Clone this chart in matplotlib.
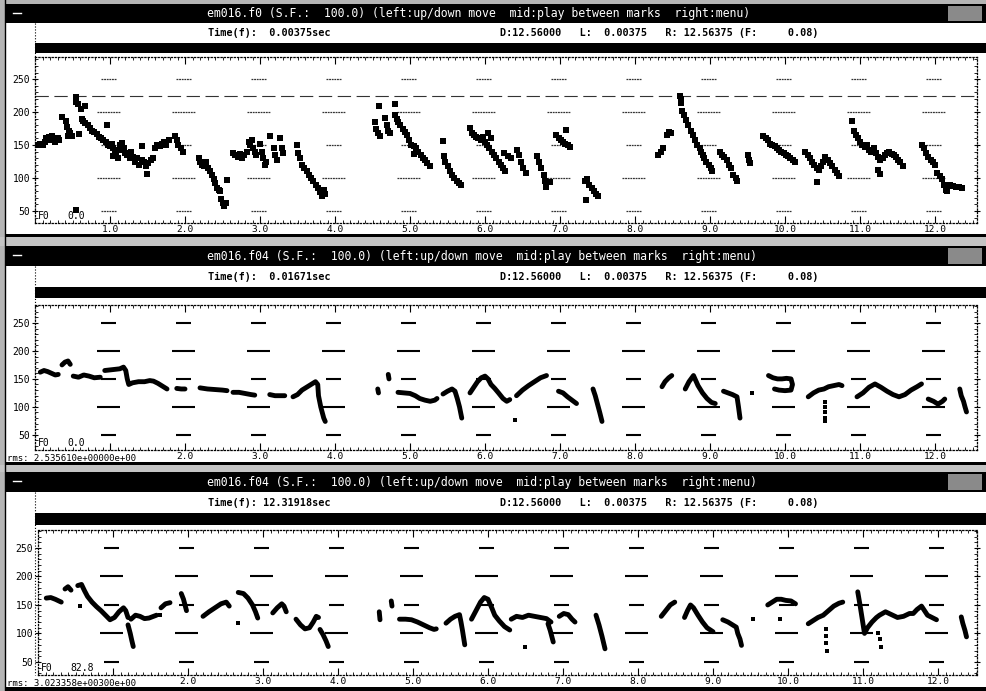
import numpy as np
import matplotlib
matplotlib.use("Agg")
import matplotlib.pyplot as plt
from matplotlib.patches import Rectangle
from matplotlib.ticker import MultipleLocator, FixedLocator

nan = np.nan

# %% data: em016.f0 (raw pitch track, scattered frames)
f0_t = [0.04, 0.07, 0.10, 0.13, 0.15, 0.18, 0.20, 0.22, 0.25, 0.27, 0.30, 0.32,
        0.36, 0.41, 0.43, 0.44, 0.45, 0.47, 0.49,
        0.54, 0.55, 0.57, 0.55, 0.58, 0.61, 0.62, 0.64, 0.67,
        0.66, 0.70, 0.73, 0.76, 0.79, 0.82, 0.85, 0.88, 0.91, 0.94, 0.97, 1.00, 0.96,
        1.02, 1.04, 1.06, 1.08, 1.10, 1.12, 1.14, 1.16, 1.18, 1.20, 1.23, 1.26, 1.28, 1.30, 1.04,
        1.33, 1.36, 1.39, 1.42, 1.45, 1.48, 1.51, 1.54, 1.57, 1.42, 1.49,
        1.60, 1.63, 1.66, 1.69, 1.72, 1.75, 1.78,
        1.87, 1.89, 1.91, 1.94, 1.97,
        2.18, 2.20, 2.22, 2.25, 2.28, 2.30, 2.33,
        2.36, 2.38, 2.40, 2.43, 2.45, 2.47, 2.48, 2.50, 2.52, 2.54, 2.56,
        2.64, 2.67, 2.70, 2.73, 2.76, 2.79, 2.82,
        2.85, 2.87, 2.89, 2.91, 2.93, 2.95,
        3.00, 3.02, 3.04, 3.06, 3.08,
        3.13, 3.18, 3.20, 3.22, 3.26, 3.29, 3.31,
        3.49, 3.50, 3.53, 3.56, 3.59, 3.62, 3.65, 3.68, 3.71, 3.74, 3.77, 3.80, 3.83, 3.86, 3.85,
        4.53, 4.55, 4.57, 4.60, 4.59,
        4.67, 4.69, 4.71, 4.73, 4.80,
        4.80, 4.82, 4.84, 4.87, 4.90, 4.93, 4.96, 4.99, 5.02, 5.05, 5.08, 5.11, 5.14, 5.17,
        5.20, 5.23, 5.26, 5.06,
        5.44, 5.45, 5.47, 5.50, 5.53, 5.56, 5.59, 5.62, 5.65, 5.68,
        5.80, 5.82, 5.85, 5.88, 5.91, 5.94, 5.97, 6.00,
        6.03, 6.06, 6.09, 6.12, 6.15, 6.18, 6.21, 6.24, 6.27, 6.04, 6.08,
        6.25, 6.30, 6.35,
        6.42, 6.45, 6.48, 6.51, 6.54,
        6.69, 6.72, 6.75, 6.78, 6.80, 6.81, 6.87,
        6.95, 6.98, 7.01, 7.04, 7.07, 7.10, 7.13, 7.08,
        7.33, 7.36, 7.39, 7.42, 7.45, 7.48, 7.51, 7.35,
        8.31, 8.34, 8.37, 8.42, 8.45, 8.48,
        8.60, 8.61, 8.62, 8.63, 8.65, 8.68, 8.71, 8.74, 8.77, 8.80, 8.83, 8.86,
        8.88, 8.90, 8.92, 8.95, 8.98, 9.01, 9.03,
        9.13, 9.16, 9.19, 9.22, 9.25, 9.28, 9.31, 9.34, 9.36,
        9.51, 9.52, 9.53,
        9.71, 9.74, 9.77, 9.80, 9.83, 9.86, 9.89, 9.92, 9.95, 9.98, 10.01, 10.04, 10.07, 10.10, 10.13,
        10.27, 10.30, 10.33, 10.36, 10.39, 10.42, 10.45, 10.48, 10.51, 10.54, 10.57, 10.60,
        10.63, 10.66, 10.69, 10.72, 10.42,
        10.89, 10.92, 10.94, 10.97, 11.00, 11.03, 11.06, 11.09, 11.12, 11.15, 11.18, 11.21,
        11.24, 11.27, 11.24, 11.27, 11.30, 11.33, 11.36, 11.39, 11.42, 11.45, 11.48, 11.51,
        11.54, 11.57,
        11.82, 11.85, 11.88, 11.91, 11.94, 11.97, 12.00,
        12.03, 12.06, 12.09, 12.12, 12.14, 12.16,
        12.20, 12.24, 12.28, 12.32, 12.36]
f0_hz = [150, 152, 150, 155, 160, 162, 158, 163, 157, 155, 160, 158,
         193, 186, 178, 163, 172, 168, 164,
         223, 216, 212, 52, 166, 205, 190, 187, 209,
         183, 180, 176, 172, 170, 166, 162, 160, 157, 155, 150, 148, 181,
         152, 145, 140, 135, 130, 143, 150, 153, 145, 138, 135, 130, 140, 132, 133,
         125, 130, 120, 128, 125, 118, 123, 128, 130, 148, 106,
         145, 150, 148, 152, 155, 150, 157,
         163, 158, 150, 145, 140,
         130, 125, 120, 118, 125, 115, 110,
         105, 98, 92, 85, 82, 80, 68, 62, 58, 62, 97,
         138, 135, 132, 136, 130, 135, 140,
         155, 150, 158, 145, 140, 135,
         152, 140, 130, 120, 125,
         163, 145, 135, 128, 160, 145, 138,
         150, 138, 130, 120, 115, 110, 105, 100, 95, 90, 85, 78, 72, 75, 82,
         185, 175, 168, 163, 209,
         191, 180, 172, 168, 212,
         196, 190, 185, 180, 175, 170, 165, 158, 150, 148, 145, 140, 135, 130,
         127, 122, 118, 137,
         156, 133, 125, 118, 110, 105, 100, 95, 92, 90,
         176, 168, 165, 162, 160, 158, 162, 155,
         150, 145, 140, 135, 130, 125, 120, 115, 110, 168, 160,
         138, 133, 130,
         143, 135, 125, 115, 108,
         133, 125, 115, 105, 95, 87, 94,
         165, 160, 158, 155, 152, 150, 147, 173,
         95, 98, 90, 85, 80, 75, 72, 66,
         135, 140, 145, 165, 170, 168,
         225, 220, 214, 202, 195, 188, 180, 172, 165, 158, 150, 146,
         140, 135, 130, 125, 120, 115, 110,
         140, 135, 132, 128, 120, 115, 105, 100, 96,
         135, 128, 122,
         163, 160, 157, 152, 150, 148, 145, 142, 140, 138, 135, 133, 130, 128, 125,
         140, 135, 130, 125, 120, 115, 112, 118, 125, 132, 128, 122,
         118, 112, 108, 103, 94,
         186, 171, 165, 160, 155, 150, 147, 150, 143, 140, 145, 138,
         132, 128, 112, 106, 130, 135, 138, 140, 137, 135, 132, 128,
         125, 118,
         150, 145, 138, 132, 128, 125, 120,
         107, 103, 98, 90, 82, 80,
         89, 88, 87, 86, 85]

# %% data: em016.f04, first pass (smoothed contour, nan = unvoiced gap)
f04a_t = [0.07, 0.12, 0.17, 0.22, 0.27, 0.31, nan,
          0.36, 0.40, 0.44, 0.47, nan,
          0.51, 0.58, 0.65, 0.72, 0.79, 0.87, nan,
          0.93, 1.00, 1.07, 1.13, 1.18, 1.21, 1.23, 1.25, 1.30, 1.38, 1.46, 1.53, 1.58, 1.64, 1.70, 1.76, nan,
          1.89, 1.95, 2.00, nan,
          2.20, 2.30, 2.40, 2.50, 2.56, nan,
          2.64, 2.72, 2.80, 2.88, 2.93, nan,
          3.13, 3.20, 3.27, 3.33, nan,
          3.44, 3.50, 3.56, 3.62, 3.68, 3.74, 3.77, 3.78, 3.81, 3.83, 3.85, 3.87, nan,
          4.57, 4.58, nan,
          4.71, 4.72, nan,
          4.84, 4.92, 5.00, 5.07, 5.13, 5.20, 5.27, 5.33, 5.36, nan,
          5.44, 5.50, 5.56, 5.60, 5.63, 5.66, 5.69, nan,
          5.80, 5.85, 5.90, 5.95, 6.00, 6.04, 6.08, 6.13, 6.18, 6.24, 6.29, 6.33, nan,
          6.42, 6.50, 6.58, 6.66, 6.74, 6.82, nan,
          6.98, 7.04, 7.10, 7.16, 7.22, nan,
          7.44, 7.47, 7.50, 7.53, 7.56, nan,
          8.36, 8.40, 8.45, 8.49, nan,
          8.67, 8.72, 8.78, 8.84, 8.90, 8.96, 9.02, 9.07, nan,
          9.18, 9.24, 9.30, 9.36, 9.38, 9.40, nan,
          9.78, 9.84, 9.90, 9.96, 10.02, 10.08, 10.10, 10.08, 10.00, 9.92, 9.86, nan,
          10.31, 10.38, 10.45, 10.52, 10.58, 10.65, 10.72, 10.76, nan,
          10.96, 11.04, 11.12, 11.20, 11.28, 11.36, 11.44, 11.52, 11.60, 11.68, 11.76, 11.82, nan,
          11.91, 11.98, 12.04, 12.10, 12.13, nan,
          12.33, 12.35, 12.38, 12.40, 12.42]
f04a_hz = [162, 165, 163, 160, 157, 158, nan,
           175, 180, 182, 176, nan,
           155, 153, 157, 155, 152, 153, nan,
           165, 166, 167, 168, 171, 165, 150, 140, 143, 145, 145, 147, 146, 142, 137, 132, nan,
           133, 132, 132, nan,
           134, 132, 131, 130, 129, nan,
           126, 126, 124, 122, 121, nan,
           122, 120, 120, 120, nan,
           118, 122, 130, 135, 140, 145, 140, 120, 100, 90, 80, 74, nan,
           132, 125, nan,
           158, 150, nan,
           126, 125, 124, 120, 115, 112, 110, 112, 115, nan,
           123, 128, 132, 128, 115, 100, 80, nan,
           125, 135, 145, 152, 155, 150, 140, 133, 125, 115, 110, 113, nan,
           120, 130, 138, 145, 152, 156, nan,
           128, 125, 118, 112, 106, nan,
           132, 120, 105, 90, 74, nan,
           136, 145, 152, 156, nan,
           132, 145, 156, 138, 125, 115, 108, 106, nan,
           128, 125, 122, 118, 100, 80, nan,
           156, 152, 150, 150, 151, 150, 140, 130, 129, 130, 132, nan,
           118, 125, 130, 132, 136, 138, 140, 138, nan,
           118, 125, 135, 141, 135, 128, 122, 118, 122, 130, 136, 141, nan,
           114, 110, 105, 110, 114, nan,
           132, 120, 110, 100, 91]
f04a_dot_t = [6.40, 9.56, 10.53, 10.53, 10.53, 10.53, 10.53]
f04a_dot_hz = [76, 125, 109, 100, 90, 80, 74]

# %% data: em016.f04, second pass
f04b_t = [0.11, 0.17, 0.23, 0.28, 0.31, nan,
          0.36, 0.40, 0.44, nan,
          0.53, 0.58, 0.62, 0.66, 0.72, 0.78, 0.84, 0.90, 0.96, 1.02, 1.08, 1.14, 1.17, 1.20, nan,
          1.20, 1.23, 1.25, 1.27, nan,
          1.24, 1.30, 1.36, 1.42, 1.48, 1.54, 1.58, nan,
          1.64, 1.70, 1.76, nan,
          1.91, 1.94, 1.96, 1.98, nan,
          2.20, 2.28, 2.36, 2.44, 2.51, 2.55, nan,
          2.67, 2.74, 2.80, 2.86, 2.90, 2.93, nan,
          3.13, 3.19, 3.25, 3.28, 3.31, nan,
          3.44, 3.50, 3.56, 3.62, 3.67, 3.71, 3.74, nan,
          3.76, 3.80, 3.84, 3.87, nan,
          4.55, 4.56, nan,
          4.71, 4.72, nan,
          4.82, 4.90, 4.98, 5.06, 5.14, 5.22, 5.28, 5.31, nan,
          5.44, 5.50, 5.56, 5.62, 5.64, 5.66, 5.69, nan,
          5.78, 5.84, 5.90, 5.95, 6.00, 6.05, 6.09, 6.15, 6.22, 6.29, nan,
          6.31, 6.38, 6.46, 6.54, 6.62, 6.70, 6.78, 6.84, nan,
          6.80, 6.83, 6.85, 6.87, nan,
          6.95, 7.01, 7.07, 7.12, 7.16, nan,
          7.44, 7.48, 7.52, 7.56, nan,
          8.31, 8.37, 8.43, 8.49, nan,
          8.62, 8.66, 8.70, 8.74, 8.80, 8.86, 8.92, 9.00, nan,
          9.13, 9.20, 9.26, 9.31, 9.33, 9.36, 9.38, nan,
          9.73, 9.79, 9.85, 9.91, 9.97, 10.04, 10.10, nan,
          10.27, 10.33, 10.40, 10.47, 10.54, 10.61, 10.68, 10.73, nan,
          10.93, 10.96, 10.99, 11.02, 11.06, 11.12, 11.18, 11.22, 11.30, 11.38, 11.46, 11.54,
          11.62, 11.67, 11.72, 11.78, 11.82, 11.86, 11.92, 11.98, nan,
          12.31, 12.33, 12.36, 12.38]
f04b_hz = [162, 163, 160, 157, 155, nan,
           178, 182, 176, nan,
           184, 186, 175, 165, 155, 147, 140, 132, 124, 128, 138, 145, 140, 128, nan,
           115, 100, 88, 77, nan,
           125, 132, 130, 126, 127, 130, 132, nan,
           145, 152, 154, nan,
           170, 160, 150, 140, nan,
           130, 138, 145, 152, 155, 148, nan,
           172, 170, 162, 150, 138, 127, nan,
           136, 145, 152, 148, 138, nan,
           125, 115, 108, 110, 120, 130, 128, nan,
           107, 98, 87, 77, nan,
           138, 124, nan,
           157, 148, nan,
           125, 125, 124, 120, 115, 110, 107, 108, nan,
           118, 125, 130, 133, 120, 105, 80, nan,
           125, 140, 155, 163, 160, 145, 132, 122, 112, 106, nan,
           125, 130, 128, 132, 130, 128, 126, 120, nan,
           117, 105, 95, 85, nan,
           130, 135, 133, 125, 120, nan,
           132, 115, 95, 73, nan,
           130, 140, 150, 155, nan,
           128, 140, 150, 145, 132, 120, 110, 103, nan,
           124, 120, 115, 111, 100, 90, 79, nan,
           150, 155, 160, 160, 158, 157, 152, nan,
           117, 122, 128, 132, 140, 148, 153, 155, nan,
           173, 150, 125, 100, 110, 120, 128, 132, 138, 133, 128, 130,
           135, 135, 142, 148, 140, 132, 128, 124, nan,
           129, 118, 105, 94]
f04b_dot_t = [0.56, 1.62, 2.67, 6.49, 9.53, 9.89, 10.51, 10.51, 10.51, 10.52, 11.20, 11.22, 11.24]
f04b_dot_hz = [148, 133, 118, 76, 126, 126, 108, 95, 83, 70, 100, 90, 76]

# %% header texts
file_names = ["em016.f0", "em016.f04", "em016.f04"]
cursor_times = ["0.00375", "0.01671", "12.31918"]
f0_readouts = ["0.0", "0.0", "82.8"]
rms_texts = [None, "rms: 2.535610e+00000e+00", "rms: 3.023358e+00300e+00"]
mark_text = "D:12.56000   L:  0.00375   R: 12.56375 (F:     0.08)"
y_ticks = [50, 100, 150, 200, 250]
x_ticks = list(range(1, 13))

# %% layout (pixels)
W, H = 986, 691
MONO = "DejaVu Sans Mono"
PX_PER_SEC = 75.0
panels = [
    dict(title=(4, 23), info=(23, 43), bar=(43, 53), plot=(57, 223), x0=35, ylim=(31.7, 283.6), bottom=(234, 237)),
    dict(title=(246, 266), info=(266, 287), bar=(287, 298), plot=(305, 450), x0=35, ylim=(23, 282), bottom=(462, 465)),
    dict(title=(472, 492), info=(492, 513), bar=(513, 525), plot=(530, 675), x0=38, ylim=(27, 281.6), bottom=(687, 691)),
]

fig = plt.figure(figsize=(W / 100, H / 100), dpi=100)
bg = fig.add_axes([0, 0, 1, 1])
bg.set_xlim(0, W)
bg.set_ylim(H, 0)
bg.axis("off")


def box(x0, y0, x1, y1, color):
    bg.add_patch(Rectangle((x0, y0), x1 - x0, y1 - y0, facecolor=color, edgecolor="none"))


# window chrome
box(0, 0, W, 4, "#b5b5b5")
box(0, 0, 5, H, "#b5b5b5")
box(0, 237, W, 246, "#c4c4c4")
box(0, 465, W, 472, "#c4c4c4")
bg.plot([5, 5], [0, H], color="black", lw=1)

for i, p in enumerate(panels):
    t0, t1 = p["title"]
    box(5, t0, W, t1, "black")
    box(948, t0 + 2, 982, t1 - 2, "#8a8a8a")
    bg.plot([13, 21], [t0 + 9, t0 + 9], color="white", lw=1)
    title = f"{file_names[i]} (S.F.:  100.0) (left:up/down move  mid:play between marks  right:menu)"
    bg.text(207, (t0 + t1) / 2, title, color="white", fontsize=8.3, family=MONO,
            ha="left", va="center")

    i0, i1 = p["info"]
    box(35, i0, 980, i1, "white")
    bg.plot([35, 35], [i0, p["plot"][1]], color="black", lw=0.8, ls=":")
    bg.text(208, (i0 + i1) / 2, f"Time(f): {cursor_times[i]:>8}sec", fontsize=7.3, family=MONO,
            weight="bold", ha="left", va="center")
    bg.text(500, (i0 + i1) / 2, mark_text, fontsize=7.3, family=MONO, weight="bold",
            ha="left", va="center")
    b0, b1 = p["bar"]
    box(35, b0, W, b1, "black")
    box(5, p["bottom"][0], W, p["bottom"][1], "black")

    # plot area
    y0, y1 = p["plot"]
    x0 = p["x0"]
    ax = fig.add_axes([x0 / W, 1 - y1 / H, (977 - x0) / W, (y1 - y0) / H])
    ax.set_xlim(0, (977 - x0) / PX_PER_SEC)
    ax.set_ylim(*p["ylim"])
    ax.set_facecolor("white")
    for s in ax.spines.values():
        s.set_linestyle(":")
        s.set_linewidth(0.9)
    ax.xaxis.set_major_locator(FixedLocator(x_ticks))
    ax.xaxis.set_minor_locator(MultipleLocator(0.1))
    ax.yaxis.set_major_locator(FixedLocator(y_ticks))
    ax.yaxis.set_minor_locator(MultipleLocator(10))
    ax.tick_params(axis="x", which="major", direction="in", top=True, bottom=True,
                   length=5, width=0.8, labelsize=6.8, pad=1.5)
    ax.tick_params(axis="x", which="minor", direction="in", top=True, bottom=True,
                   length=2, width=0.6)
    ax.tick_params(axis="y", which="major", direction="inout", left=True, right=True,
                   length=5, width=0.8, labelsize=7, pad=1)
    ax.tick_params(axis="y", which="minor", direction="in", left=True, right=True,
                   length=2, width=0.6)
    xl = [f"{t:.1f}" for t in x_ticks]
    if rms_texts[i]:
        xl[0] = ""
    ax.set_xticklabels(xl, family=MONO)
    ax.set_yticklabels([str(v) for v in y_ticks], family=MONO)

    # level marks at each whole second
    for t in x_ticks:
        for lev in y_ticks:
            w = 0.3 if lev in (100, 200) else 0.2
            if i == 0:
                ax.hlines(lev, t - w / 2 - 0.02, t + w / 2 - 0.02, color="#333333", lw=0.9,
                          linestyles=(0, (1.5, 0.6)))
            else:
                ax.hlines(lev, t - w / 2 - 0.02, t + w / 2 - 0.02, color="black", lw=1.5)

    if i == 0:
        ax.axhline(225, color="#333333", lw=0.8, dashes=(12, 5))
        ax.scatter(f0_t, f0_hz, marker="s", s=17, color="black", linewidths=0, zorder=3)
    elif i == 1:
        ax.plot(f04a_t, f04a_hz, color="black", lw=3.5, solid_capstyle="round",
                solid_joinstyle="round", zorder=3)
        ax.scatter(f04a_dot_t, f04a_dot_hz, marker="s", s=12, color="black", linewidths=0, zorder=3)
    else:
        ax.plot(f04b_t, f04b_hz, color="black", lw=3.5, solid_capstyle="round",
                solid_joinstyle="round", zorder=3)
        ax.scatter(f04b_dot_t, f04b_dot_hz, marker="s", s=12, color="black", linewidths=0, zorder=3)

    ax.text(0.003, 0.015, "F0", transform=ax.transAxes, fontsize=7, family=MONO,
            ha="left", va="bottom")
    ax.text(0.034, 0.015, f0_readouts[i], transform=ax.transAxes, fontsize=7, family=MONO,
            ha="left", va="bottom")
    if rms_texts[i]:
        bg.text(7, y1 + 8, rms_texts[i], fontsize=6.5, family=MONO, ha="left", va="center")

fig.savefig("out.png", dpi=100)
